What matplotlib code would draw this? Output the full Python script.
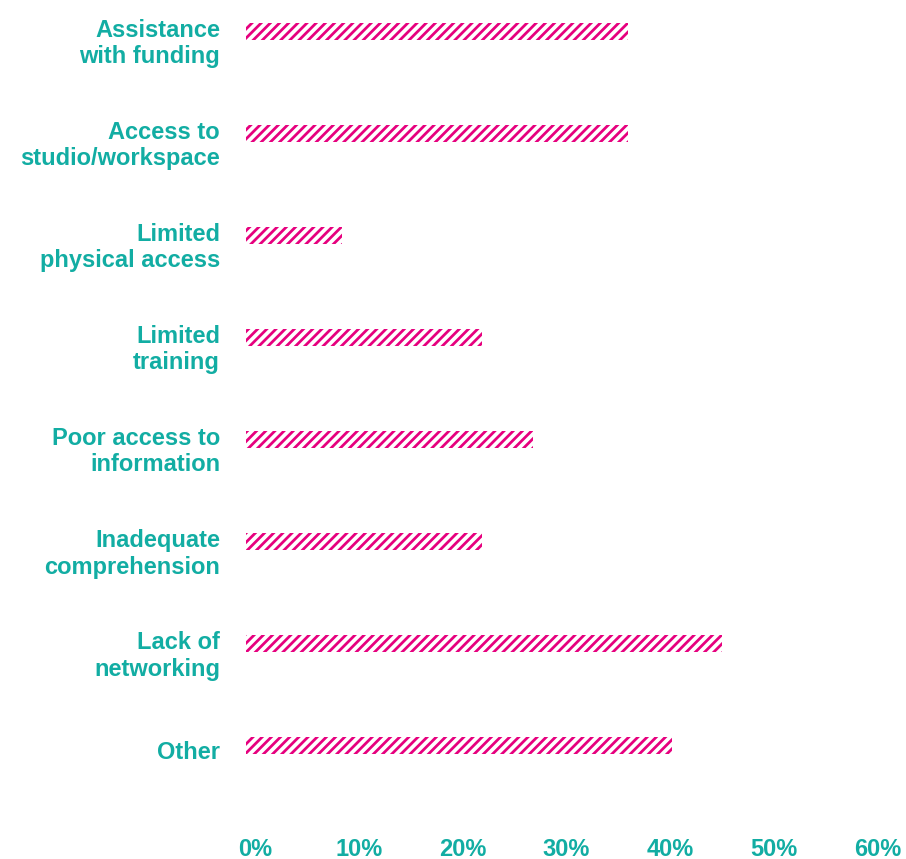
import matplotlib
matplotlib.use("Agg")
import matplotlib.pyplot as plt
import matplotlib.transforms as mtransforms

categories = ["Assistance\nwith funding", "Access to\nstudio/workspace", "Limited\nphysical access",
              "Limited\ntraining", "Poor access to\ninformation", "Inadequate\ncomprehension",
              "Lack of\nnetworking", "Other"]
values = [36.8, 36.8, 9.2, 22.7, 27.6, 22.7, 45.8, 41.0]
xticks = [0, 10, 20, 30, 40, 50, 60]
xticklabels = ["0%", "10%", "20%", "30%", "40%", "50%", "60%"]

MAGENTA = "#E6007E"
TEAL = "#12ADA3"
DPI = 110

plt.rcParams["font.family"] = ["Liberation Sans", "DejaVu Sans"]
plt.rcParams["hatch.linewidth"] = 1.8

fig = plt.figure(figsize=(906 / DPI, 859 / DPI), dpi=DPI)
ax = fig.add_axes([246 / 906, 1 - 830 / 859, 623 / 906, (830 - 0.4) / 859])

pos = list(range(len(categories)))
ax.barh(pos, values, height=0.167, facecolor="none", edgecolor=MAGENTA,
        linewidth=0, hatch="////")

ax.set_xlim(0, 60)
ax.set_ylim(7.826, -0.3)
ax.set_xticks(xticks)
ax.set_xticklabels(xticklabels, fontsize=15.5, fontweight="bold", color=TEAL)
ax.set_yticks(pos)
ax.set_yticklabels(categories, fontsize=15.5, fontweight="bold", color=TEAL,
                   linespacing=1.2, ha="right")
ax.tick_params(axis="both", length=0)
ax.tick_params(axis="x", pad=5)
ax.tick_params(axis="y", pad=17)
for s in ax.spines.values():
    s.set_visible(False)

off_x = mtransforms.ScaledTranslation(9 / DPI, 0, fig.dpi_scale_trans)
for lbl in ax.get_xticklabels():
    lbl.set_transform(lbl.get_transform() + off_x)
for lbl in ax.get_yticklabels():
    dy = -8 if "\n" in lbl.get_text() else -4
    lbl.set_transform(lbl.get_transform() +
                      mtransforms.ScaledTranslation(0, dy / DPI, fig.dpi_scale_trans))

fig.savefig("out.png", dpi=DPI, facecolor="white")
